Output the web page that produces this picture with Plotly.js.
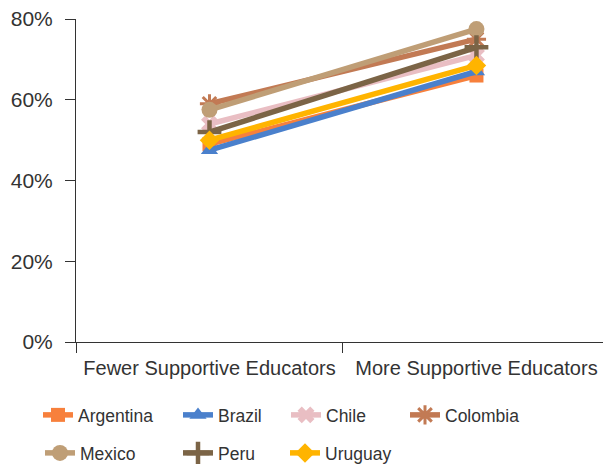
<!DOCTYPE html>
<html><head><meta charset="utf-8">
<script src="https://cdn.plot.ly/plotly-3.0.1.min.js"></script>
<style>html,body{margin:0;padding:0;background:#fff}#chart{width:603px;height:466px}</style>
</head><body><div id="chart"></div>
<script>
const categories = ["Fewer Supportive Educators", "More Supportive Educators"];
const countries = ["Argentina", "Brazil", "Chile", "Colombia", "Mexico", "Peru", "Uruguay"];
const argentina = [0.49, 0.66];
const brazil = [0.475, 0.67];
const chile = [0.54, 0.71];
const colombia = [0.59, 0.75];
const mexico = [0.575, 0.775];
const peru = [0.52, 0.73];
const uruguay = [0.50, 0.685];
const yTickLabels = ["0%", "20%", "40%", "60%", "80%"];
const yTickVals = [0, 0.2, 0.4, 0.6, 0.8];

const series = [argentina, brazil, chile, colombia, mexico, peru, uruguay];
const colors = ["#F7803C", "#4A80CC", "#E9BEC3", "#C27A54", "#BF9E76", "#7B6446", "#FFB400"];
const symbols = ["square", "triangle-up", "x", "asterisk-open", "circle", "cross-thin-open", "diamond"];
const sizes = [14, 15, 15, 16, 16, 17, 15];
// legend positions (pixels): text start x, row center y
const legPos = [[78,415],[218,415],[326,415],[445,415],[80,453],[218,453],[325,453]];
const W = 603, H = 466;

const traces = countries.map((c, i) => ({
  type: "scatter", mode: "lines+markers", name: c, x: categories, y: series[i],
  line: {color: colors[i], width: 5.5},
  marker: {symbol: symbols[i], size: sizes[i], color: colors[i],
           line: {color: colors[i], width: (symbols[i] === "cross-thin-open" ? 4.5 : symbols[i].endsWith("open") ? 3 : 0)}},
  legend: i === 0 ? "legend" : "legend" + (i + 1),
  cliponaxis: false
}));

const fam = "Liberation Sans, Arial, sans-serif";
const font = {family: fam, size: 17.5, color: "#333"};
const layout = {
  width: W, height: H,
  margin: {l: 76, r: 0, t: 19, b: 124},
  paper_bgcolor: "#fff", plot_bgcolor: "#fff",
  font: font,
  showlegend: true,
  xaxis: {type: "category", range: [-0.5, 1.474], showgrid: false, zeroline: false,
          showline: true, linecolor: "#333", linewidth: 1, tickangle: 0,
          ticks: "outside", tickson: "boundaries", ticklen: 10, tickcolor: "#333",
          ticklabelstandoff: 8,
          tickfont: {family: fam, size: 20, color: "#333"}, fixedrange: true},
  yaxis: {range: [0, 0.8], tickvals: yTickVals, ticktext: yTickLabels, showgrid: false,
          zeroline: false, showline: true, linecolor: "#333", linewidth: 1,
          ticks: "outside", ticklen: 10, tickcolor: "#333", ticklabelstandoff: 8,
          tickfont: {family: fam, size: 21, color: "#333"}, fixedrange: true}
};
legPos.forEach((p, i) => {
  const key = i === 0 ? "legend" : "legend" + (i + 1);
  layout[key] = {xref: "container", yref: "container", x: (p[0] - 40) / W, y: 1 - p[1] / H,
                 xanchor: "left", yanchor: "middle", bgcolor: "rgba(0,0,0,0)",
                 borderwidth: 0, font: font, orientation: "h"};
});
Plotly.newPlot("chart", traces, layout, {displayModeBar: false, staticPlot: true});
</script></body></html>
